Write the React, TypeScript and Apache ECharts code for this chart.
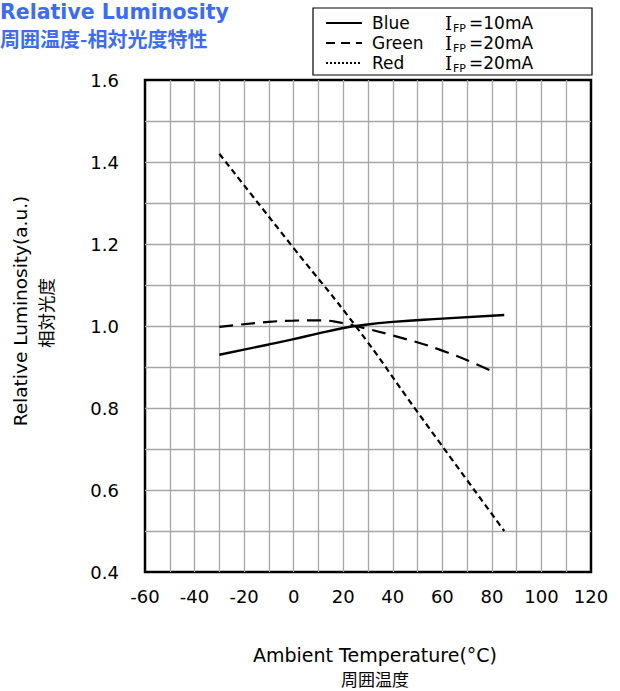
import React, { useEffect, useRef } from "react";
import * as echarts from "echarts";

const blueX = [-30, -10, 0, 10, 20, 25, 40, 60, 85];
const blueY = [0.93, 0.955, 0.968, 0.982, 0.995, 1.0, 1.01, 1.018, 1.027];
const greenX = [-30, -10, 0, 10, 20, 25, 40, 60, 80];
const greenY = [0.998, 1.01, 1.013, 1.014, 1.007, 1.0, 0.977, 0.94, 0.89];
const redX = [-30, 0, 25, 50, 85];
const redY = [1.42, 1.19, 1.0, 0.79, 0.5];

const legendNames = ["Blue", "Green", "Red"];
const legendCurrents = ["=10mA", "=20mA", "=20mA"];
const lineDashes: any[] = ["solid", [9, 6], [2, 2]];

const FONT = "DejaVu Sans";
const CJK = "Noto Sans CJK JP";
const TITLE_COLOR = "#3d6cf2";

function pairs(xs: number[], ys: number[]) {
  return xs.map((x, i) => [x, ys[i]]);
}

export default function App() {
  const ref = useRef<HTMLDivElement>(null);
  useEffect(() => {
    const chart = echarts.init(ref.current!, null, { renderer: "svg" });
    const legendGraphics: any[] = [
      {
        type: "rect",
        shape: { x: 313, y: 8, width: 279, height: 67 },
        style: { fill: "#fff", stroke: "#000", lineWidth: 1.2 },
      },
    ];
    legendNames.forEach((n, i) => {
      const cy = 23 + i * 20;
      legendGraphics.push({
        type: "line",
        shape: { x1: 326, y1: cy, x2: 362, y2: cy },
        style: { stroke: "#000", lineWidth: 2, lineDash: lineDashes[i] },
      });
      legendGraphics.push({
        type: "text",
        x: 372,
        y: cy,
        style: { text: n, font: `17px '${FONT}'`, fill: "#000", verticalAlign: "middle" },
      });
      legendGraphics.push({
        type: "text",
        x: 445,
        y: cy,
        style: { text: "I", font: `18px 'DejaVu Serif'`, fill: "#000", verticalAlign: "middle" },
      });
      legendGraphics.push({
        type: "text",
        x: 453,
        y: cy + 5,
        style: { text: "FP", font: `11px '${FONT}'`, fill: "#000", verticalAlign: "middle" },
      });
      legendGraphics.push({
        type: "text",
        x: 469,
        y: cy,
        style: { text: legendCurrents[i], font: `17px '${FONT}'`, fill: "#000", verticalAlign: "middle" },
      });
    });

    const option: any = {
      animation: false,
      grid: {
        left: 145,
        top: 80,
        width: 446,
        height: 492,
        show: true,
        borderColor: "#000",
        borderWidth: 2.5,
        backgroundColor: "transparent",
      },
      xAxis: {
        type: "value",
        min: -60,
        max: 120,
        interval: 10,
        axisLine: { show: false },
        axisTick: { show: false },
        axisLabel: {
          margin: 15,
          fontSize: 18,
          fontFamily: FONT,
          color: "#000",
          formatter: (v: number) => (Math.round(v) % 20 === 0 ? String(v) : ""),
        },
        splitLine: {
          show: true,
          showMinLine: false,
          showMaxLine: false,
          lineStyle: { color: "#a6a6a6", width: 1.3 },
        },
      },
      yAxis: {
        type: "value",
        min: 0.4,
        max: 1.6,
        interval: 0.1,
        axisLine: { show: false },
        axisTick: { show: false },
        axisLabel: {
          margin: 26,
          fontSize: 18,
          fontFamily: FONT,
          color: "#000",
          formatter: (v: number) => (Math.round(v * 10) % 2 === 0 ? v.toFixed(1) : ""),
        },
        splitLine: {
          show: true,
          showMinLine: false,
          showMaxLine: false,
          lineStyle: { color: "#a6a6a6", width: 1.3 },
        },
      },
      series: [
        {
          name: "Blue",
          type: "line",
          data: pairs(blueX, blueY),
          smooth: true,
          showSymbol: false,
          lineStyle: { color: "#000", width: 2.4, type: "solid" },
          z: 3,
        },
        {
          name: "Green",
          type: "line",
          data: pairs(greenX, greenY),
          smooth: true,
          showSymbol: false,
          lineStyle: { color: "#000", width: 2.2, type: [14, 8] },
          z: 3,
        },
        {
          name: "Red",
          type: "line",
          data: pairs(redX, redY),
          smooth: true,
          showSymbol: false,
          lineStyle: { color: "#000", width: 2.2, type: [6, 4] },
          z: 3,
        },
      ],
      graphic: [
        {
          type: "text",
          x: 0,
          y: 12,
          style: {
            text: "Relative Luminosity",
            font: `bold 20.5px '${FONT}'`,
            fill: TITLE_COLOR,
            verticalAlign: "middle",
          },
        },
        {
          type: "text",
          x: 0,
          y: 38,
          style: {
            text: "周囲温度-相対光度特性",
            font: `bold 20px '${CJK}'`,
            fill: TITLE_COLOR,
            verticalAlign: "middle",
          },
        },
        {
          type: "text",
          x: 20,
          y: 311,
          rotation: Math.PI / 2,
          style: {
            text: "Relative Luminosity(a.u.)",
            font: `18.5px '${FONT}'`,
            fill: "#000",
            align: "center",
            verticalAlign: "middle",
          },
        },
        {
          type: "text",
          x: 45,
          y: 313,
          rotation: Math.PI / 2,
          style: {
            text: "相対光度",
            font: `17.5px '${CJK}'`,
            fill: "#000",
            align: "center",
            verticalAlign: "middle",
          },
        },
        {
          type: "text",
          x: 375,
          y: 655,
          style: {
            text: "Ambient Temperature(°C)",
            font: `19px '${FONT}'`,
            fill: "#000",
            align: "center",
            verticalAlign: "middle",
          },
        },
        {
          type: "text",
          x: 375,
          y: 678,
          style: {
            text: "周囲温度",
            font: `17px '${CJK}'`,
            fill: "#000",
            align: "center",
            verticalAlign: "middle",
          },
        },
        ...legendGraphics,
      ],
    };
    chart.setOption(option);
    return () => chart.dispose();
  }, []);
  return <div ref={ref} style={{ width: 620, height: 691, position: "absolute", left: 0, top: 0 }} />;
}
